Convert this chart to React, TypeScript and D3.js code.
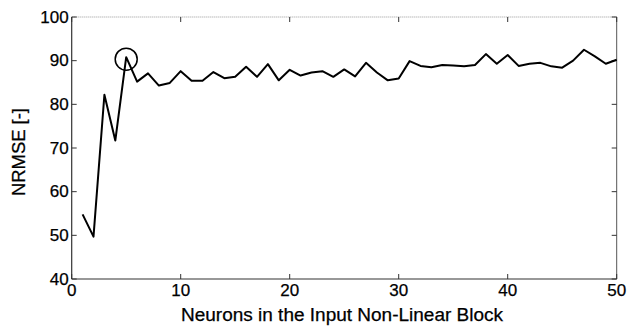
import React from "react";
import * as d3 from "d3";

const neurons = d3.range(1, 51);
const nrmse = [
  54.8, 49.7, 82.2, 71.7, 90.8, 85.2, 87.1, 84.3, 84.9, 87.6,
  85.4, 85.4, 87.4, 86.0, 86.3, 88.6, 86.3, 89.2, 85.5, 87.9,
  86.6, 87.3, 87.6, 86.3, 88.0, 86.4, 89.5, 87.3, 85.5, 85.9,
  89.9, 88.8, 88.5, 89.0, 88.9, 88.7, 89.0, 91.5, 89.3, 91.3,
  88.8, 89.3, 89.5, 88.7, 88.4, 90.0, 92.5, 91.0, 89.3, 90.2,
];
const xTicks = [0, 10, 20, 30, 40, 50];
const yTicks = [40, 50, 60, 70, 80, 90, 100];
const highlightIndex = 4;

export default function App() {
  const W = 627, H = 327;
  const m = { left: 71.7, right: 10.3, top: 17, bottom: 48 };
  const x = d3.scaleLinear().domain([0, 50]).range([m.left, W - m.right]);
  const y = d3.scaleLinear().domain([40, 100]).range([H - m.bottom, m.top]);
  const line = d3.line<number>().x((_, i) => x(neurons[i])).y((d) => y(d));
  const font = "'Liberation Sans', Arial, sans-serif";
  const x0 = x(0), x1 = x(50), y0 = y(40), y1 = y(100);
  const tl = 5;
  const txt = { fontFamily: font, fill: "#000", stroke: "#000", strokeWidth: 0.25 };
  return (
    <svg width={W} height={H} style={{ position: "absolute", left: 0, top: 0 }}>
      <rect x={0} y={0} width={W} height={H} fill="#fff" />
      <line x1={x0} x2={x1} y1={y1} y2={y1} stroke="#999" strokeWidth={1} strokeDasharray="1,1" />
      <line x1={x1} x2={x1} y1={y1} y2={y0} stroke="#555" strokeWidth={1} />
      <line x1={x0} x2={x1} y1={y0} y2={y0} stroke="#333" strokeWidth={1.2} />
      <line x1={x0} x2={x0} y1={y1} y2={y0} stroke="#333" strokeWidth={1.2} />
      {xTicks.map((t) => (
        <g key={"x" + t}>
          <line x1={x(t)} x2={x(t)} y1={y0} y2={y0 - tl} stroke="#333" />
          <line x1={x(t)} x2={x(t)} y1={y1} y2={y1 + tl} stroke="#333" />
          <text x={x(t)} y={y0 + 17} textAnchor="middle" fontSize={17} {...txt}>{t}</text>
        </g>
      ))}
      {yTicks.map((t) => (
        <g key={"y" + t}>
          <line x1={x0} x2={x0 + tl} y1={y(t)} y2={y(t)} stroke="#333" />
          <line x1={x1} x2={x1 - tl} y1={y(t)} y2={y(t)} stroke="#333" />
          <text x={x0 - 3} y={y(t) + 5.5} textAnchor="end" fontSize={17} {...txt}>{t}</text>
        </g>
      ))}
      <path d={line(nrmse) || ""} fill="none" stroke="#000" strokeWidth={2} strokeLinejoin="round" />
      <circle cx={x(neurons[highlightIndex])} cy={y(nrmse[highlightIndex]) + 2} r={11} fill="none" stroke="#000" strokeWidth={1.5} />
      <text x={342} y={321} textAnchor="middle" fontSize={18} textLength={322} lengthAdjust="spacingAndGlyphs" {...txt}>Neurons in the Input Non-Linear Block</text>
      <text transform={`translate(25, 152) rotate(-90)`} textAnchor="middle" fontSize={18} textLength={88} lengthAdjust="spacingAndGlyphs" {...txt}>NRMSE [-]</text>
    </svg>
  );
}
